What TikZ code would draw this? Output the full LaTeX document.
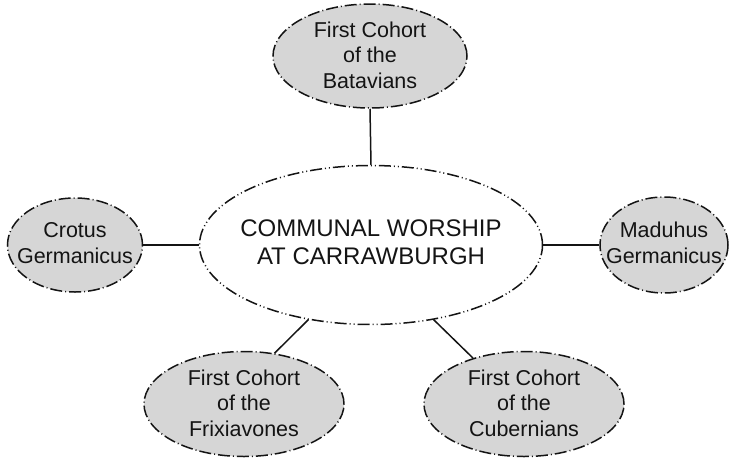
\documentclass[tikz,border=0pt]{standalone}
\usepackage{fontspec}
\setmainfont{Liberation Sans}
\usetikzlibrary{shapes.geometric}
\definecolor{bubble}{gray}{0.84}
\definecolor{ink}{gray}{0.08}
\tikzset{
  x=1pt, y=-1pt,
  small/.style={ellipse, draw=ink, fill=bubble, line width=1.5pt, inner sep=0pt,
    dash pattern=on 12pt off 3pt on 1pt off 3pt},
  big/.style={ellipse, draw=ink, line width=1.5pt, inner sep=0pt,
    dash pattern=on 12pt off 3pt on 1pt off 3pt on 1pt off 3pt},
  smalltxt/.style={align=center, text=ink, font=\fontsize{21.5}{25.5}\selectfont, inner sep=0pt},
  bigtxt/.style={align=center, text=ink, font=\fontsize{24}{28}\selectfont, inner sep=0pt},
  link/.style={draw=ink, line width=1.5pt}
}
\begin{document}
\begin{tikzpicture}
\useasboundingbox (0,0) rectangle (729,459);
\node[big, minimum width=343pt, minimum height=159pt] (c) at (371,245) {};
\node[bigtxt] (ct) at (371,242) {COMMUNAL WORSHIP\\AT CARRAWBURGH};

\node[small, minimum width=194pt, minimum height=104pt] (b) at (370,56) {};
\node[smalltxt] (bt) at (370,55) {First Cohort\\of the\\Batavians};

\node[small, minimum width=135pt, minimum height=94pt] (g) at (75,245) {};
\node[smalltxt] (gt) at (75,243) {Crotus\\Germanicus};

\node[small, minimum width=128pt, minimum height=96pt] (m) at (664,245) {};
\node[smalltxt] (mt) at (664,243) {Maduhus\\Germanicus};

\node[small, minimum width=200pt, minimum height=105pt] (f) at (244,404) {};
\node[smalltxt] (ft) at (244,403) {First Cohort\\of the\\Frixiavones};

\node[small, minimum width=200pt, minimum height=105pt] (u) at (524,404) {};
\node[smalltxt] (ut) at (524,403) {First Cohort\\of the\\Cubernians};

\draw[link] (b.south) -- (c.north);
\draw[link] (g.east) -- (c.west);
\draw[link] (m.west) -- (c.east);
\draw[link] (f.59) -- (c.230);
\draw[link] (u.138) -- (c.310);
\end{tikzpicture}
\end{document}
